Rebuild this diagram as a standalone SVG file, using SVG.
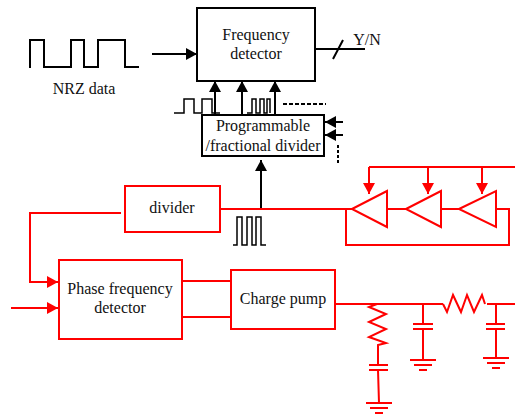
<svg xmlns="http://www.w3.org/2000/svg" width="515" height="415" viewBox="0 0 515 415">
<defs>
<marker id="ak" markerUnits="userSpaceOnUse" markerWidth="12" markerHeight="12" refX="11" refY="6" orient="auto"><path d="M0,0L11,6L0,12Z" fill="#000"/></marker>
<marker id="ar" markerUnits="userSpaceOnUse" markerWidth="12" markerHeight="12" refX="11" refY="6" orient="auto"><path d="M0,0L11,6L0,12Z" fill="#f00"/></marker>
<g id="gnd"><path d="M-13,0H13M-9,5H9M-4,10H4" class="r" /></g>
</defs>
<style>
.k{fill:none;stroke:#000;stroke-width:2}
.r{fill:none;stroke:#f00;stroke-width:2}
.b{fill:#fff;stroke:#000;stroke-width:2}
.br{fill:#fff;stroke:#f00;stroke-width:2}
text{font-family:"Liberation Serif",serif;font-size:16px;fill:#111;text-anchor:middle}
</style>
<g id="connectors">
<path class="k" d="M30,68V40H44V67H71V40H84V67H98V40H125V67H139"/>
<path class="k" d="M152,54H197" marker-end="url(#ak)"/>
<path class="k" d="M316,49H365M333,59L343,40"/>
<path class="k" d="M215,115V81" marker-end="url(#ak)"/>
<path class="k" d="M242,115V81" marker-end="url(#ak)"/>
<path class="k" d="M275,115V81" marker-end="url(#ak)"/>
<path class="k" style="stroke-width:1.500" d="M174,113H184V99H194V113H202V99H212V113H220"/>
<path class="k" style="stroke-width:1.500" d="M247,113H252V99H256V113H260V99H264V113H267V99H270V113"/>
<path class="k" style="stroke-dasharray:4 2" d="M283,104H326"/>
<path class="k" d="M343,122H325" marker-end="url(#ak)"/>
<path class="k" d="M343,135H325" marker-end="url(#ak)"/>
<path class="k" style="stroke-dasharray:3 2" d="M338,145V163"/>
<path class="k" d="M261,209V160" marker-end="url(#ak)"/>
<path class="k" style="stroke-width:1.500" d="M233,245H237V217H242V245H247V217H252V245H256V217H261V245H266"/>
<path class="r" d="M220,209H352"/>
<path class="r" d="M369,167H515"/>
<path class="r" d="M369,167V194" marker-end="url(#ar)"/>
<path class="r" d="M428,167V194" marker-end="url(#ar)"/>
<path class="r" d="M482,167V194" marker-end="url(#ar)"/>
<path class="r" d="M352,209L387,191V227Z"/>
<path class="r" d="M406,209L441,191V227Z"/>
<path class="r" d="M459,209L496,191V227Z"/>
<path class="r" d="M387,209H406M441,209H459M496,209H509V245H346V209"/>
<path class="r" d="M121,213H30V282H58" marker-end="url(#ar)"/>
<path class="r" d="M11,308H58" marker-end="url(#ar)"/>
<path class="r" d="M183,281H231M183,317H231"/>
<path class="r" d="M335,304H443M487,304H515"/>
<path class="r" d="M443,304L447,312L453,295L461,312L467,295L474,312L482,295L485,304"/>
<path class="r" d="M377,304L369,307L386,314L369,322L386,329L369,337L386,343L378,345V365"/>
<path class="r" d="M369,365H388M369,370H388M378,370L379,403"/>
<use href="#gnd" x="379" y="403"/>
<path class="r" d="M423,304V324M413,324H433M413,329H433M423,329V360"/>
<use href="#gnd" x="423" y="360"/>
<path class="r" d="M496,304V324M486,324H505M486,329H505M496,329V358"/>
<use href="#gnd" x="496" y="358"/>
</g>
<g id="nrz-label"><text x="84" y="94">NRZ data</text></g>
<g id="yn-label"><text x="367" y="45">Y/N</text></g>
<g id="frequency-detector"><rect class="b" x="197" y="8" width="118" height="73"/><text x="256" y="40">Frequency</text><text x="256" y="59">detector</text></g>
<g id="programmable-divider"><rect class="b" x="202" y="115" width="122" height="41"/><text x="263" y="131">Programmable</text><text x="263" y="151">/fractional divider</text></g>
<g id="divider"><rect class="br" x="125" y="186" width="95" height="46"/><text x="172" y="213">divider</text></g>
<g id="phase-frequency-detector"><rect class="br" x="59" y="260" width="123" height="79"/><text x="120" y="294">Phase frequency</text><text x="120" y="313">detector</text></g>
<g id="charge-pump"><rect class="br" x="231" y="270" width="104" height="59"/><text x="283" y="304">Charge pump</text></g>
</svg>
